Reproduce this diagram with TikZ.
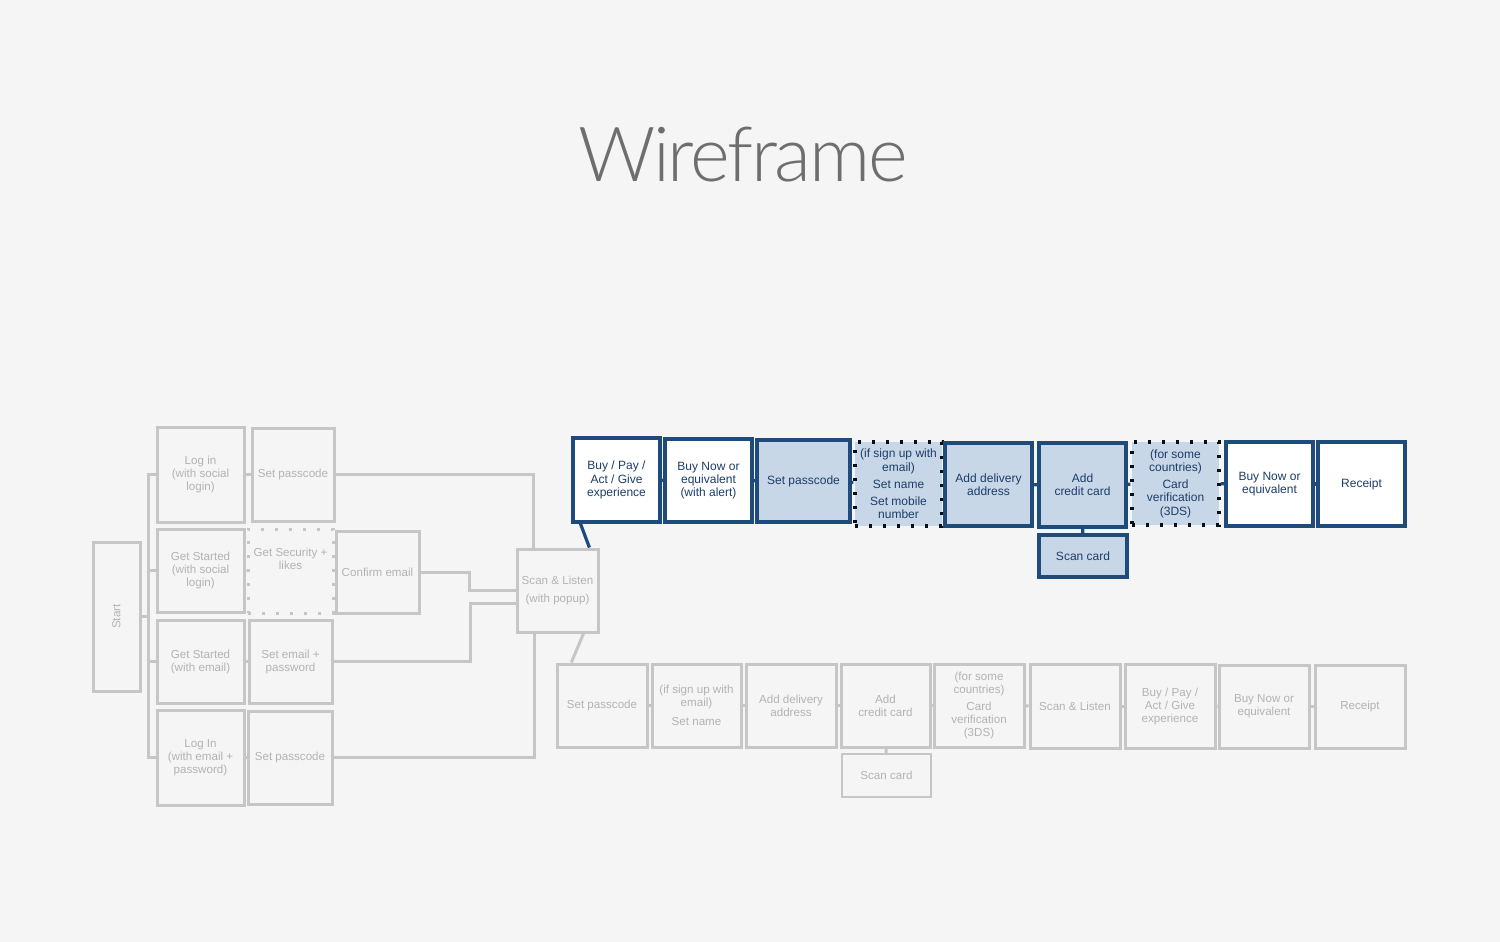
\documentclass[tikz,border=0pt]{standalone}
\usepackage{fontspec}
\setmainfont{Liberation Sans}
\newfontfamily\titlefont{Lato}[UprightFont={* Light}, LetterSpace=-3]
\usetikzlibrary{positioning,calc}

\definecolor{pagebg}{HTML}{F5F5F5}
\definecolor{greyline}{HTML}{C6C6C6}
\definecolor{greytext}{HTML}{B3B3B3}
\definecolor{navy}{HTML}{1E4B7A}
\definecolor{navytext}{HTML}{1C3D69}
\definecolor{paleblue}{HTML}{C8D7E7}
\definecolor{titlegrey}{HTML}{6E6E6E}

\tikzset{
  gbox/.style={draw=greyline, line width=1.5pt, text=greytext, fill=pagebg, align=center,
    font=\fontsize{5.8}{6.5}\selectfont, inner sep=1pt, minimum width=43.5pt, minimum height=41.5pt},
  bbox/.style={draw=navy, line width=1.6pt, text=navytext, fill=white, align=center,
    font=\fontsize{6}{6.6}\selectfont, inner sep=1pt, minimum width=43.5pt, minimum height=42pt},
  bfill/.style={bbox, fill=paleblue},
  gdots/.style={gbox, dash pattern=on 1.5pt off 5.5pt},
  bdots/.style={bfill, draw=black!80!navy, dash pattern=on 1.6pt off 5.4pt},
  gline/.style={draw=greyline, line width=1.5pt},
  bline/.style={draw=navy, line width=1.6pt},
}

\begin{document}
\begin{tikzpicture}[x=0.5pt, y=-0.5pt]
    % page
    \fill[pagebg] (0,0) rectangle (1500,942);
    \node[font=\titlefont\fontsize{38}{38}\selectfont, text=titlegrey] (title) at (743,155) {Wireframe};

    % start and sign-in branches
    \node[gbox, rotate=90, minimum width=74.5pt, minimum height=23.5pt] (start) at (116.5,616.5) {Start};
    \node[gbox, minimum height=47.5pt] (login) at (200.5,474.5) {Log in\\(with social\\login)};
    \node[gbox, minimum width=41pt, minimum height=46.5pt] (passA) at (293,474.5) {Set passcode};
    \node[gbox] (gssocial) at (200.5,570.5) {Get Started\\(with social\\login)};
    \node[gdots, minimum width=42.5pt, minimum height=42pt] (security) at (290.5,571) {Get Security +\\likes\\[6pt]};
    \node[gbox, minimum width=41.5pt, minimum height=41pt] (confirm) at (377.5,572) {Confirm email};
    \node[gbox] (gsemail) at (200.5,661.5) {Get Started\\(with email)};
    \node[gbox, minimum width=41.5pt] (setemail) at (290.5,661.5) {Set email +\\password};
    \node[gbox, minimum height=47.5pt] (logemail) at (200.5,757.5) {Log In\\(with email +\\password)};
    \node[gbox, minimum width=42pt, minimum height=46.5pt] (passB) at (290,757.5) {Set passcode};
    \node[gbox, minimum width=40.5pt, font=\fontsize{5.8}{9}\selectfont] (scan) at (557.5,590.5) {Scan \& Listen\\(with popup)};

    % bus from start
    \coordinate (busx) at (148,0);
    \draw[gline] (start.south) -- (start.south -| busx);
    \draw[gline] (login.west) -- (login.west -| busx) -- (logemail.west -| busx) -- (logemail.west);
    \draw[gline] (gssocial.west) -- (gssocial.west -| busx);
    \draw[gline] (gsemail.west) -- (gsemail.west -| busx);
    \foreach \a/\b in {login/passA, gssocial/security, security/confirm, gsemail/setemail, logemail/passB}
        \draw[gline] (\a) -- (\b);

    % into scan & listen
    \draw[gline] (passA.east) -| ($(scan.north west)!0.21!(scan.north east)$);
    \draw[gline] (confirm.east) -- ++(49,0) |- (scan.west);
    \draw[gline] (setemail.east) -- ++(137,0) |- ($(scan.west)+(0,13)$);
    \draw[gline] (passB.east) -| ($(scan.south west)!0.23!(scan.south east)$);

    % blue flow
    \node[bbox] (buypayA) at (616.5,480) {Buy / Pay /\\Act / Give\\experience};
    \node[bbox, minimum height=41.5pt] (buynowA) at (708.5,480.5) {Buy Now or\\equivalent\\(with alert)};
    \node[bfill, minimum width=46.5pt, minimum height=41pt] (passC) at (803.5,481) {Set passcode};
    \node[bdots] (signupA) at (898.5,484) {(if sign up with\\email)\\[2pt]Set name\\[2pt]Set mobile\\number};
    \node[bfill, minimum height=41.5pt] (deliveryA) at (988.5,484.5) {Add delivery\\address};
    \node[bfill] (creditA) at (1082.5,485) {Add\\credit card};
    \node[bfill, minimum width=44pt, minimum height=21pt] (scancardA) at (1083,556) {Scan card};
    \node[bdots, minimum height=41.5pt] (threedsA) at (1175.5,483.5) {(for some\\countries)\\[2pt]Card\\verification\\(3DS)};
    \node[bbox] (buynowB) at (1269.5,484) {Buy Now or\\equivalent};
    \node[bbox] (receiptA) at (1361.5,484) {Receipt};

    \foreach \a/\b in {buypayA/buynowA, buynowA/passC, passC/signupA, signupA/deliveryA,
        deliveryA/creditA, creditA/threedsA, threedsA/buynowB, buynowB/receiptA, creditA/scancardA}
        \draw[bline] (\a) -- (\b);
    \draw[bline] ($(buypayA.south west)!0.1!(buypayA.south east)$) -- ($(scan.north west)!0.88!(scan.north east)$);

    % grey flow
    \node[gbox, minimum width=45pt] (passD) at (602,705.5) {Set passcode};
    \node[gbox, minimum width=44.5pt] (signupB) at (696.5,705.5) {(if sign up with\\email)\\[3pt]Set name};
    \node[gbox, minimum width=45pt] (deliveryB) at (791,705.5) {Add delivery\\address};
    \node[gbox, minimum width=44.5pt] (creditB) at (885.5,705.5) {Add\\credit card};
    \node[gbox, minimum width=44.5pt, minimum height=21.5pt, line width=1.1pt] (scancardB) at (886.5,775.5) {Scan card};
    \node[gbox, minimum width=45pt] (threedsB) at (979,705.5) {(for some\\countries)\\[2pt]Card\\verification\\(3DS)};
    \node[gbox, minimum width=45pt, minimum height=42pt] (scanB) at (1075,706) {Scan \& Listen};
    \node[gbox, minimum width=45pt, minimum height=42pt] (buypayB) at (1170,706) {Buy / Pay /\\Act / Give\\experience};
    \node[gbox, minimum width=45pt] (buynowC) at (1264,706.5) {Buy Now or\\equivalent};
    \node[gbox, minimum width=45pt] (receiptB) at (1360,706.5) {Receipt};

    \foreach \a/\b in {passD/signupB, signupB/deliveryB, deliveryB/creditB, creditB/threedsB,
        threedsB/scanB, scanB/buypayB, buypayB/buynowC, buynowC/receiptB, creditB/scancardB}
        \draw[gline] (\a) -- (\b);
    \draw[gline] ($(scan.south west)!0.81!(scan.south east)$) -- ($(passD.north west)!0.17!(passD.north east)$);
\end{tikzpicture}
\end{document}
